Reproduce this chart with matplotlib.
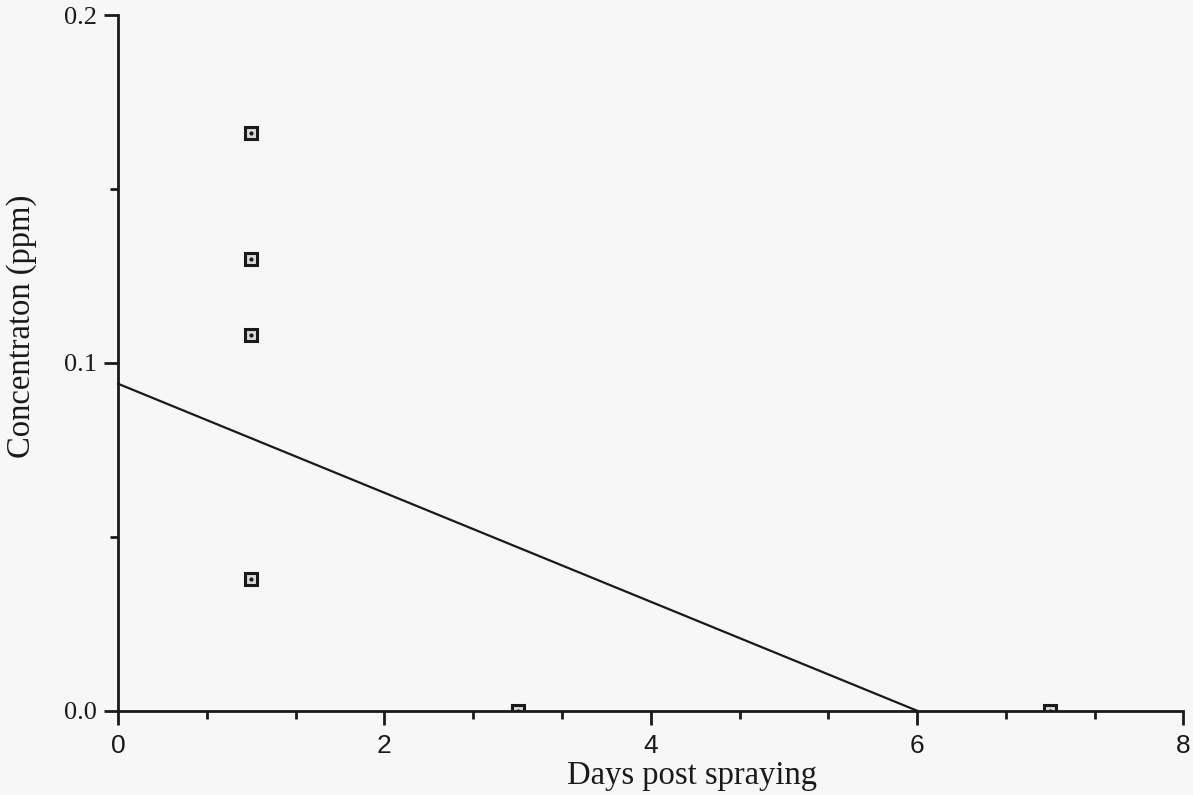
import matplotlib.pyplot as plt
from matplotlib.ticker import MultipleLocator

# data
days = [1, 1, 1, 1, 3, 7]
conc = [0.166, 0.130, 0.108, 0.038, 0.0, 0.0]

fit_days = [0, 6]
fit_conc = [0.094, 0.0]

x_ticks = [0, 2, 4, 6, 8]
y_ticks = [0.0, 0.1, 0.2]

fig = plt.figure(figsize=(11.93, 7.95), dpi=100)
fig.patch.set_facecolor('#f7f7f7')
ax = fig.add_axes([0.099, 0.106, 0.893, 0.875])
ax.set_facecolor('#f7f7f7')

ax.plot(fit_days, fit_conc, color='#1a1a1a', lw=1.6, clip_on=False)
ax.plot(days, conc, ls='none', marker='s', ms=9, mfc='#d8d8d8',
        mec='#1a1a1a', mew=2.2)
ax.plot(days, conc, ls='none', marker='o', ms=2, color='#1a1a1a')

ax.set_xlim(0, 8)
ax.set_ylim(0, 0.2)
ax.spines['top'].set_visible(False)
ax.spines['right'].set_visible(False)
for s in ['left', 'bottom']:
    ax.spines[s].set_linewidth(2)
    ax.spines[s].set_color('#1a1a1a')

ax.set_xticks(x_ticks)
ax.set_yticks(y_ticks)
ax.set_yticklabels(['0.0', '0.1', '0.2'], family='Liberation Serif', fontsize=19)
ax.set_xticklabels([str(t) for t in x_ticks], family='Liberation Sans', fontsize=19)
ax.xaxis.set_minor_locator(MultipleLocator(2 / 3))
ax.yaxis.set_minor_locator(MultipleLocator(0.05))
ax.tick_params(which='major', length=10, width=2, color='#1a1a1a', labelcolor='#1a1a1a')
ax.tick_params(which='minor', length=6, width=2, color='#1a1a1a')
ax.tick_params(axis='x', pad=7)
ax.tick_params(axis='y', pad=5)

ax.set_xlabel('Days post spraying', family='Liberation Serif', fontsize=23.5, color='#1a1a1a')
ax.xaxis.set_label_coords(0.539, -0.071)
ax.set_ylabel('Concentraton (ppm)', family='Liberation Serif', fontsize=23.5, color='#1a1a1a')
ax.yaxis.set_label_coords(-0.076, 0.553)

fig.savefig('out.png', dpi=100, facecolor=fig.get_facecolor())
